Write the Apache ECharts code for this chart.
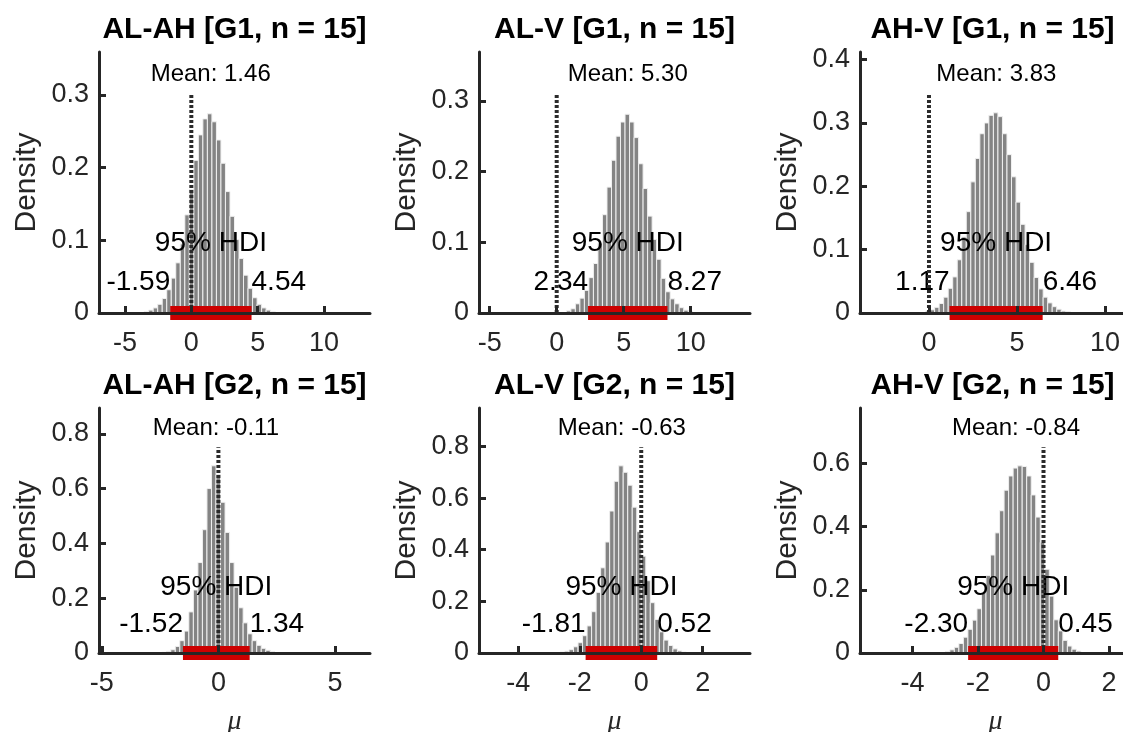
<!DOCTYPE html>
<html>
<head>
<meta charset="utf-8">
<script src="https://cdn.jsdelivr.net/npm/echarts@6/dist/echarts.min.js"></script>
<style>
html, body { margin: 0; padding: 0; background: #fff; }
#chart { width: 1123px; height: 732px; }
</style>
</head>
<body>
<div id="chart"></div>
<script>
// panel texts and summary numbers
const panelTitles = ['AL-AH [G1, n = 15]', 'AL-V [G1, n = 15]', 'AH-V [G1, n = 15]',
  'AL-AH [G2, n = 15]', 'AL-V [G2, n = 15]', 'AH-V [G2, n = 15]']
const postMeans = [1.46, 5.30, 3.83, -0.11, -0.63, -0.84]
const hdiLow = [-1.59, 2.34, 1.17, -1.52, -1.81, -2.30]
const hdiHigh = [4.54, 8.27, 6.46, 1.34, 0.52, 0.45]
const zeroLineTop = [0.302, 0.31, 0.346, 0.751, 0.797, 0.651]

// axis ranges and ticks
const xMin = [-6.96, -5.8, -3.92, -5.12, -5.28, -5.6]
const xMax = [13.47, 14.43, 11.48, 6.5, 3.54, 2.67]
const yMax = [0.359, 0.369, 0.412, 0.894, 0.949, 0.775]
const xTicks = [[-5, 0, 5, 10], [-5, 0, 5, 10], [0, 5, 10], [-5, 0, 5], [-4, -2, 0, 2], [-4, -2, 0, 2]]
const yTicks = [[0, 0.1, 0.2, 0.3], [0, 0.1, 0.2, 0.3], [0, 0.1, 0.2, 0.3, 0.4],
  [0, 0.2, 0.4, 0.6, 0.8], [0, 0.2, 0.4, 0.6, 0.8], [0, 0.2, 0.4, 0.6]]

// histogram bins (first bin centre, bin width) and densities
const binFirstCenter = [-3.385, 0.889, -0.065, -2.334, -2.571, -2.928]
const binWidth = [0.3405, 0.337, 0.257, 0.194, 0.147, 0.138]
const densG1ALAH = [0.002, 0.004, 0.007, 0.012, 0.02, 0.032, 0.048, 0.069, 0.095, 0.135, 0.17, 0.21, 0.245, 0.267,
  0.274, 0.263, 0.238, 0.206, 0.167, 0.133, 0.101, 0.075, 0.052, 0.034, 0.021, 0.012, 0.007, 0.004, 0.002]
const densG1ALV = [0.003, 0.006, 0.013, 0.021, 0.032, 0.05, 0.07, 0.099, 0.139, 0.178, 0.216, 0.25, 0.27, 0.281,
  0.27, 0.248, 0.211, 0.176, 0.137, 0.104, 0.076, 0.049, 0.03, 0.02, 0.013, 0.0075, 0.004, 0.002]
const densG1AHV = [0.003, 0.005, 0.009, 0.015, 0.025, 0.039, 0.057, 0.084, 0.12, 0.16, 0.207, 0.244, 0.283, 0.30,
  0.312, 0.316, 0.31, 0.283, 0.25, 0.215, 0.175, 0.14, 0.108, 0.08, 0.056, 0.038, 0.025, 0.016, 0.01, 0.006, 0.003, 0.002]
const densG2ALAH = [0.003, 0.006, 0.012, 0.024, 0.045, 0.08, 0.15, 0.23, 0.33, 0.45, 0.6, 0.683, 0.65, 0.55,
  0.44, 0.33, 0.24, 0.165, 0.11, 0.07, 0.045, 0.028, 0.017, 0.01, 0.005]
const densG2ALV = [0.004, 0.007, 0.013, 0.024, 0.04, 0.067, 0.105, 0.16, 0.235, 0.33, 0.43, 0.55, 0.665, 0.725,
  0.7, 0.65, 0.565, 0.47, 0.375, 0.28, 0.195, 0.13, 0.082, 0.05, 0.029, 0.016, 0.008, 0.004]
const densG2AHV = [0.005, 0.01, 0.018, 0.03, 0.05, 0.075, 0.104, 0.14, 0.19, 0.245, 0.31, 0.38, 0.45, 0.515, 0.56,
  0.585, 0.592, 0.59, 0.56, 0.5, 0.43, 0.35, 0.265, 0.18, 0.105, 0.07, 0.04, 0.022, 0.012, 0.006]
const densities = [densG1ALAH, densG1ALV, densG1AHV, densG2ALAH, densG2ALV, densG2AHV]

const FONT = 'Liberation Sans, Arial, Helvetica, sans-serif'
const AXIS_COLOR = '#262626'
const BAR_FILL = '#848484'
const BAR_EDGE = '#f0f0f0'
const HDI_RED = '#cc0000'

// 图表区域（像素）
const boxes = [
  { left: 99, top: 52, width: 271, height: 261 },
  { left: 479, top: 52, width: 271, height: 261 },
  { left: 860, top: 52, width: 271, height: 261 },
  { left: 99, top: 408, width: 271, height: 245 },
  { left: 479, top: 408, width: 271, height: 245 },
  { left: 860, top: 408, width: 271, height: 245 }
]

const histSeries = (i) => ({
  type: 'custom',
  xAxisIndex: i,
  yAxisIndex: i,
  z: 2,
  silent: true,
  data: densities[i].map((h, k) => [binFirstCenter[i] + k * binWidth[i], h]),
  encode: { x: 0, y: 1 },
  renderItem: (params, api) => {
    const c = api.value(0)
    const h = api.value(1)
    const p0 = api.coord([c - binWidth[i] / 2, h])
    const p1 = api.coord([c + binWidth[i] / 2, 0])
    return {
      type: 'rect',
      shape: { x: p0[0], y: p0[1], width: p1[0] - p0[0], height: p1[1] - p0[1] },
      style: { fill: BAR_FILL, stroke: BAR_EDGE, lineWidth: 1 }
    }
  }
})

const textSeries = (i) => {
  const items = [
    { x: postMeans[i], y: 0.915 * yMax[i], text: 'Mean: ' + postMeans[i].toFixed(2), align: 'center', size: 24 },
    { x: (hdiLow[i] + hdiHigh[i]) / 2, y: 0.268 * yMax[i], text: '95% HDI', align: 'center', size: 28 },
    { x: hdiLow[i], y: 0.118 * yMax[i], text: hdiLow[i].toFixed(2), align: 'right', size: 28 },
    { x: hdiHigh[i], y: 0.118 * yMax[i], text: hdiHigh[i].toFixed(2), align: 'left', size: 28 }
  ]
  return {
    type: 'custom',
    xAxisIndex: i,
    yAxisIndex: i,
    z: 3,
    silent: true,
    data: items.map(d => [d.x, d.y]),
    renderItem: (params, api) => {
      const d = items[params.dataIndex]
      const p = api.coord([d.x, d.y])
      return {
        type: 'text',
        x: p[0],
        y: p[1],
        style: {
          text: d.text,
          align: d.align,
          verticalAlign: 'middle',
          fill: '#000',
          fontSize: d.size,
          fontFamily: FONT
        }
      }
    }
  }
}

const option = {
  animation: false,
  backgroundColor: '#fff',
  title: [],
  grid: [],
  xAxis: [],
  yAxis: [],
  series: []
}

panelTitles.forEach((name, i) => {
  const b = boxes[i]
  option.grid.push({ left: b.left, top: b.top, width: b.width, height: b.height, outerBoundsMode: 'none' })
  option.title.push({
    text: name,
    left: b.left + b.width / 2 - (i % 3 === 2 ? 3 : 0),
    top: b.top - 37,
    padding: 0,
    textAlign: 'center',
    textStyle: { fontSize: 30, fontWeight: 'bold', color: '#000', fontFamily: FONT }
  })
  option.xAxis.push({
    type: 'value',
    gridIndex: i,
    min: xMin[i],
    max: xMax[i],
    z: 10,
    name: i >= 3 ? 'μ' : '',
    nameLocation: 'middle',
    nameGap: 55,
    nameTextStyle: { fontSize: 28, fontStyle: 'italic', color: AXIS_COLOR, fontFamily: 'Liberation Serif, serif' },
    axisLine: { show: true, onZero: false, lineStyle: { color: AXIS_COLOR, width: 3 } },
    axisTick: { show: true, inside: true, length: 7, customValues: xTicks[i], lineStyle: { color: AXIS_COLOR, width: 3 } },
    axisLabel: { customValues: xTicks[i], margin: 17, fontSize: 27, color: AXIS_COLOR, fontFamily: FONT, formatter: v => String(v) },
    splitLine: { show: false }
  })
  option.yAxis.push({
    type: 'value',
    gridIndex: i,
    min: 0,
    max: yMax[i],
    z: 10,
    name: 'Density',
    nameLocation: 'middle',
    nameGap: 57,
    nameTextStyle: { fontSize: 30, color: AXIS_COLOR, fontFamily: FONT },
    axisLine: { show: true, onZero: false, lineStyle: { color: AXIS_COLOR, width: 3 } },
    axisTick: { show: true, inside: true, length: 7, customValues: yTicks[i], lineStyle: { color: AXIS_COLOR, width: 3 } },
    axisLabel: { customValues: yTicks[i], margin: 10, fontSize: 27, color: AXIS_COLOR, fontFamily: FONT, formatter: v => String(v) },
    splitLine: { show: false }
  })
  option.series.push(histSeries(i))
  option.series.push(textSeries(i))
  // 零参考线
  option.series.push({
    type: 'line',
    xAxisIndex: i,
    yAxisIndex: i,
    z: 4,
    silent: true,
    clip: false,
    symbol: 'none',
    data: [[0, 0], [0, zeroLineTop[i]]],
    lineStyle: { color: '#2b2b2b', width: 4, type: [3, 2] }
  })
  // 95% HDI 红条
  option.series.push({
    type: 'line',
    xAxisIndex: i,
    yAxisIndex: i,
    z: 5,
    silent: true,
    clip: false,
    symbol: 'none',
    data: [[hdiLow[i], 0], [hdiHigh[i], 0]],
    lineStyle: { color: HDI_RED, width: 14, cap: 'butt' }
  })
})

const myChart = echarts.init(document.getElementById('chart'))
myChart.setOption(option)
</script>
</body>
</html>
